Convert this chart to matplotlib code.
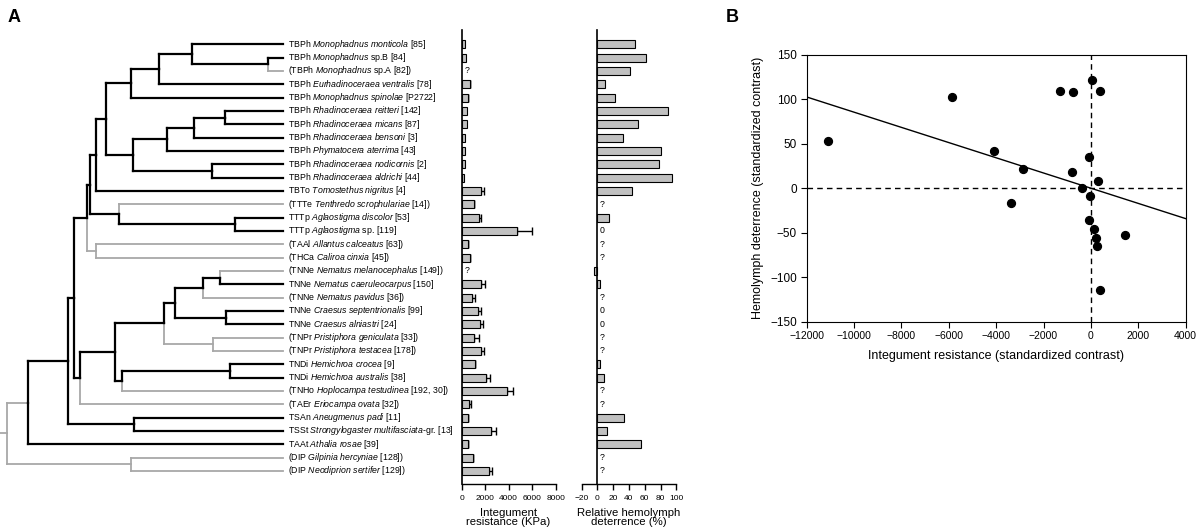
import numpy as np
import matplotlib.pyplot as plt

plt.rcParams['font.family'] = 'Liberation Sans'
plt.rcParams['mathtext.fontset'] = 'custom'
plt.rcParams['mathtext.rm'] = 'Liberation Sans'
plt.rcParams['mathtext.it'] = 'Liberation Sans:italic'

nan = np.nan

# taxa, top to bottom
tribes = ["TBPh", "TBPh", "TBPh", "TBPh", "TBPh", "TBPh", "TBPh", "TBPh", "TBPh", "TBPh", "TBPh",
          "TBTo", "TTTe", "TTTp", "TTTp", "TAAl", "THCa", "TNNe", "TNNe", "TNNe", "TNNe", "TNNe",
          "TNPr", "TNPr", "TNDi", "TNDi", "TNHo", "TAEr", "TSAn", "TSSt", "TAAt", "DIP", "DIP"]
species = ["Monophadnus monticola", "Monophadnus", "Monophadnus", "Eurhadinoceraea ventralis",
           "Monophadnus spinolae", "Rhadinoceraea reitteri", "Rhadinoceraea micans",
           "Rhadinoceraea bensoni", "Phymatocera aterrima", "Rhadinoceraea nodicornis",
           "Rhadinoceraea aldrichi", "Tomostethus nigritus", "Tenthredo scrophulariae",
           "Aglaostigma discolor", "Aglaostigma", "Allantus calceatus", "Caliroa cinxia",
           "Nematus melanocephalus", "Nematus caeruleocarpus", "Nematus pavidus",
           "Craesus septentrionalis", "Craesus alniastri", "Pristiphora geniculata",
           "Pristiphora testacea", "Hemichroa crocea", "Hemichroa australis",
           "Hoplocampa testudinea", "Eriocampa ovata", "Aneugmenus padi",
           "Strongylogaster multifasciata", "Athalia rosae", "Gilpinia hercyniae",
           "Neodiprion sertifer"]
species_extra = ["", " sp.B", " sp.A", "", "", "", "", "", "", "", "", "", "", "", " sp.", "", "",
                 "", "", "", "", "", "", "", "", "", "", "", "", "-gr.", "", "", ""]
refs = ["85", "84", "82", "78", "P2722", "142", "87", "3", "43", "2", "44", "4", "14", "53", "119",
        "63", "45", "149", "150", "36", "99", "24", "33", "178", "9", "38", "192, 30", "32", "11",
        "13", "39", "128", "129"]

# integument resistance (KPa), upper error
integument = [284, 370, nan, 680, 510, 454, 482, 255, 284, 255, 199, 1617, 1021, 1504, 4681, 510,
              680, nan, 1617, 879, 1418, 1532, 1078, 1674, 1106, 2071, 3830, 596, 539, 2525, 539,
              936, 2326]
integument_err = [0, 0, 0, 60, 40, 0, 0, 0, 0, 0, 0, 310, 60, 170, 1300, 30, 50, 0, 400, 230, 230,
                  280, 370, 230, 60, 370, 510, 170, 20, 420, 20, 20, 280]

# relative hemolymph deterrence (%)
deterrence = [47.7, 62, 41.8, 10, 22.4, 89.5, 52, 32, 80.6, 78.5, 94.5, 43.9, nan, 15.2, 0, nan,
              nan, -5, 3.4, nan, 0, 0, nan, nan, 3, 8.4, nan, nan, 33.3, 12.2, 55.7, nan, nan]

# tree: [node depth, child, child], leaves are row numbers
monophadnus = [131, [159, [192, 1, [268, 2, 3]], 4], 5]
rhadinoceraea = [133, [167, [194, [225, 6, 7], 8], 9], [212, 10, 11]]
blennocampinae = [96, [106, monophadnus, rhadinoceraea], 12]
tenthredininae = [119, 13, [235, 14, 15]]
upper = [87, [90, blennocampinae, tenthredininae], [96, 16, 17]]
nematinae = [164, [175, [203, [220, 18, 19], 20], [226, 21, 22]], [213, 23, 24]]
lower = [80, [115, nematinae, [122, [230, 25, 26], 27]], 28]
tree = [7, [28, [68, [74, upper, lower], [134, 29, 30]], 31], [131, 32, 33]]

# contrasts (standardized)
contrast_x = [-11085, -5879, -4105, -2881, -3388, -1319, -742, -798, -376, 32, 384, -67, 285, -53,
              -67, 145, 201, 257, 398, 1453]
contrast_y = [52.6, 102.4, 41.8, 21.2, -16.3, 108.8, 108, 17.8, 0.2, 121.2, 109.6, 35, 7.7, -8.8,
              -35.4, -45.5, -55.6, -65.4, -114, -52.2]

n = len(tribes)
rows = np.arange(1, n + 1)
used = [not np.isnan(integument[i]) and not np.isnan(deterrence[i]) for i in range(n)]

BLACK, GREY = 'black', '#a8a8a8'
TIP = 283
W, H = 1200, 531

fig = plt.figure(figsize=(12, 5.31), dpi=100)


def box(l, t, r, b):
    return [l / W, 1 - b / H, (r - l) / W, (b - t) / H]


ylim = (33.98, -0.07)

# ---- tree
ax_t = fig.add_axes(box(0, 30, 461, 484))
ax_t.set_xlim(0, 461)
ax_t.set_ylim(*ylim)
ax_t.axis('off')


def node_y(node):
    if isinstance(node, int):
        return node
    return (node_y(node[1]) + node_y(node[2])) / 2


def is_black(node):
    if isinstance(node, int):
        return used[node - 1]
    return is_black(node[1]) or is_black(node[2])


def seg(xs, ys, col):
    ax_t.plot(xs, ys, color=col, lw=1.6 if col == BLACK else 1.3,
              solid_capstyle='projecting', zorder=3 if col == BLACK else 2)


def draw(node, px, col=None):
    y = node_y(node)
    col = col or (BLACK if is_black(node) else GREY)
    x = TIP if isinstance(node, int) else node[0]
    seg([px, x], [y, y], col)
    if isinstance(node, int):
        return
    for child in node[1:]:
        ccol = BLACK if is_black(child) else GREY
        seg([x, x], [y, node_y(child)], ccol)
        draw(child, x)


root_y = node_y(tree)
seg([0, tree[0]], [root_y, root_y], GREY)
for child in tree[1:]:
    seg([tree[0], tree[0]], [root_y, node_y(child)], GREY)
    draw(child, tree[0], GREY)

for i in range(n):
    sp = species[i].replace(' ', r'\ ')
    lab = f"{tribes[i]} $\\it{{{sp}}}${species_extra[i]} [{refs[i]}]"
    if not used[i]:
        lab = "(" + lab + ")"
    ax_t.text(288, rows[i], lab, va='center', ha='left', fontsize=6.3)

# ---- integument bars
ax1 = fig.add_axes(box(461.5, 30, 555.7, 484))
vals = np.array(integument, dtype=float)
ok = ~np.isnan(vals)
ax1.barh(rows[ok], vals[ok], height=0.6, color='#c0c0c0', edgecolor='black', lw=0.8, zorder=2)
err = np.array(integument_err, dtype=float)
e = ok & (err > 0)
ax1.errorbar(vals[e], rows[e], xerr=[np.zeros(e.sum()), err[e]], fmt='none', ecolor='black',
             elinewidth=1, capsize=2.8, capthick=1, zorder=1)
for r in rows[~ok]:
    ax1.text(230, r, "?", va='center', ha='left', fontsize=6.3)
ax1.set_xlim(0, 8000)
ax1.set_ylim(*ylim)
ax1.set_xticks([0, 2000, 4000, 6000, 8000])
ax1.set_yticks([])
for s in ['top', 'right']:
    ax1.spines[s].set_visible(False)
ax1.spines['left'].set_linewidth(1.2)
ax1.spines['bottom'].set_linewidth(1.0)
ax1.tick_params(axis='x', labelsize=6, length=4, width=1, pad=4)
ax1.set_xlabel("Integument\nresistance (KPa)", fontsize=8.2, labelpad=4, linespacing=0.95)

# ---- deterrence bars
ax2 = fig.add_axes(box(581.7, 30, 676.3, 484))
dv = np.array(deterrence, dtype=float)
bar = ~np.isnan(dv) & (dv != 0)
ax2.barh(rows[bar], dv[bar], height=0.6, color='#c0c0c0', edgecolor='black', lw=0.8, zorder=2)
for i in range(n):
    if np.isnan(dv[i]):
        ax2.text(2.5, rows[i], "?", va='center', ha='left', fontsize=6.3)
    elif dv[i] == 0:
        ax2.text(2.5, rows[i], "0", va='center', ha='left', fontsize=6.3)
ax2.set_xlim(-20, 100)
ax2.set_ylim(*ylim)
ax2.set_xticks(range(-20, 101, 20))
ax2.set_yticks([])
for s in ['top', 'right']:
    ax2.spines[s].set_visible(False)
ax2.spines['left'].set_position(('data', 0))
ax2.spines['left'].set_linewidth(1.2)
ax2.spines['bottom'].set_linewidth(1.0)
ax2.tick_params(axis='x', labelsize=6, length=4, width=1, pad=4)
ax2.set_xlabel("Relative hemolymph\ndeterrence (%)", fontsize=8.2, labelpad=4, linespacing=0.95)

# ---- contrasts scatter
ax3 = fig.add_axes(box(806.5, 54.7, 1185.7, 321.7))
cx = np.array(contrast_x, dtype=float)
cy = np.array(contrast_y, dtype=float)
slope = np.sum(cx * cy) / np.sum(cx * cx)
ax3.axhline(0, color='black', lw=1, ls=(0, (4, 3)))
ax3.axvline(0, color='black', lw=1, ls=(0, (4, 3)))
xl = np.array([-12000, 4000])
ax3.plot(xl, slope * xl, color='black', lw=1)
ax3.scatter(cx, cy, s=32, color='black', zorder=3)
ax3.set_xlim(-12000, 4000)
ax3.set_ylim(-150, 150)
ax3.set_xticks(range(-12000, 4001, 2000))
ax3.set_yticks(range(-150, 151, 50))
ax3.tick_params(axis='x', labelsize=7.5, length=4, pad=3)
ax3.tick_params(axis='y', labelsize=8.5, length=4, pad=3)
ax3.set_xlabel("Integument resistance (standardized contrast)", fontsize=9, labelpad=6)
ax3.set_ylabel("Hemolymph deterrence (standardized contrast)", fontsize=9, labelpad=4)

fig.text(14 / W, 1 - 18 / H, "A", fontsize=13, fontweight='bold', va='center', ha='center')
fig.text(732 / W, 1 - 18 / H, "B", fontsize=13, fontweight='bold', va='center', ha='center')

fig.savefig("out.png", dpi=100)
